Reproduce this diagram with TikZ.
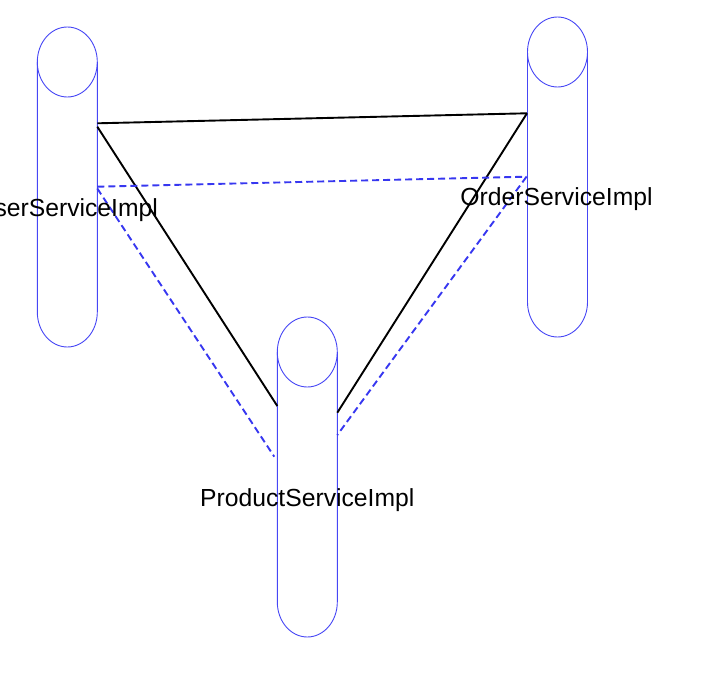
\documentclass[tikz,border=0pt]{standalone}
\usepackage{fontspec}
\setmainfont{Liberation Sans}
\definecolor{cylblue}{RGB}{70,70,245}
\definecolor{dashblue}{RGB}{55,55,240}
\newcommand{\mycyl}[3]{%
  \draw[cyl] (#1,#2) ellipse (30pt and 35pt);
  \draw[cyl] (#1-30,#2) -- (#1-30,#3) arc[start angle=180,end angle=360,x radius=30pt,y radius=35pt] -- (#1+30,#2);
}
\begin{document}
\begin{tikzpicture}[x=1pt,y=-1pt,
  cyl/.style={draw=cylblue,line width=0.9pt},
  link/.style={draw=black,line width=1.9pt},
  dlink/.style={draw=dashblue,line width=1.9pt,dash pattern=on 7pt off 4pt},
  lbl/.style={anchor=base,inner sep=0pt,font=\fontsize{24.7}{29}\selectfont}]
\useasboundingbox (0,0) rectangle (715,687);
% cylinders
\mycyl{67.3}{62}{312}
\mycyl{557.5}{52}{302}
\mycyl{307.3}{352}{602}
% connector end points
\coordinate (u1) at (97.3,123.3);
\coordinate (u2) at (97.3,126.7);
\coordinate (u3) at (97.3,186.7);
\coordinate (u4) at (97.3,188.5);
\coordinate (o1) at (527,113.3);
\coordinate (o2) at (526.5,176.7);
\coordinate (p1) at (277.3,406);
\coordinate (p2) at (337.3,412.7);
\coordinate (p3) at (274.3,456.7);
\coordinate (p4) at (337.3,435);
% solid links
\draw[link] (u1) -- (o1);
\draw[link] (u2) -- (p1);
\draw[link] (o1) -- (p2);
% dashed links
\draw[dlink] (u3) -- (o2);
\draw[dlink] (u4) -- (p3);
\draw[dlink] (o2) -- (p4);
% labels
\node[lbl] (user) at (67.3,216.7) {UserServiceImpl};
\node[lbl] (order) at (556.5,206) {OrderServiceImpl};
\node[lbl] (product) at (307.3,506.7) {ProductServiceImpl};
\end{tikzpicture}
\end{document}
